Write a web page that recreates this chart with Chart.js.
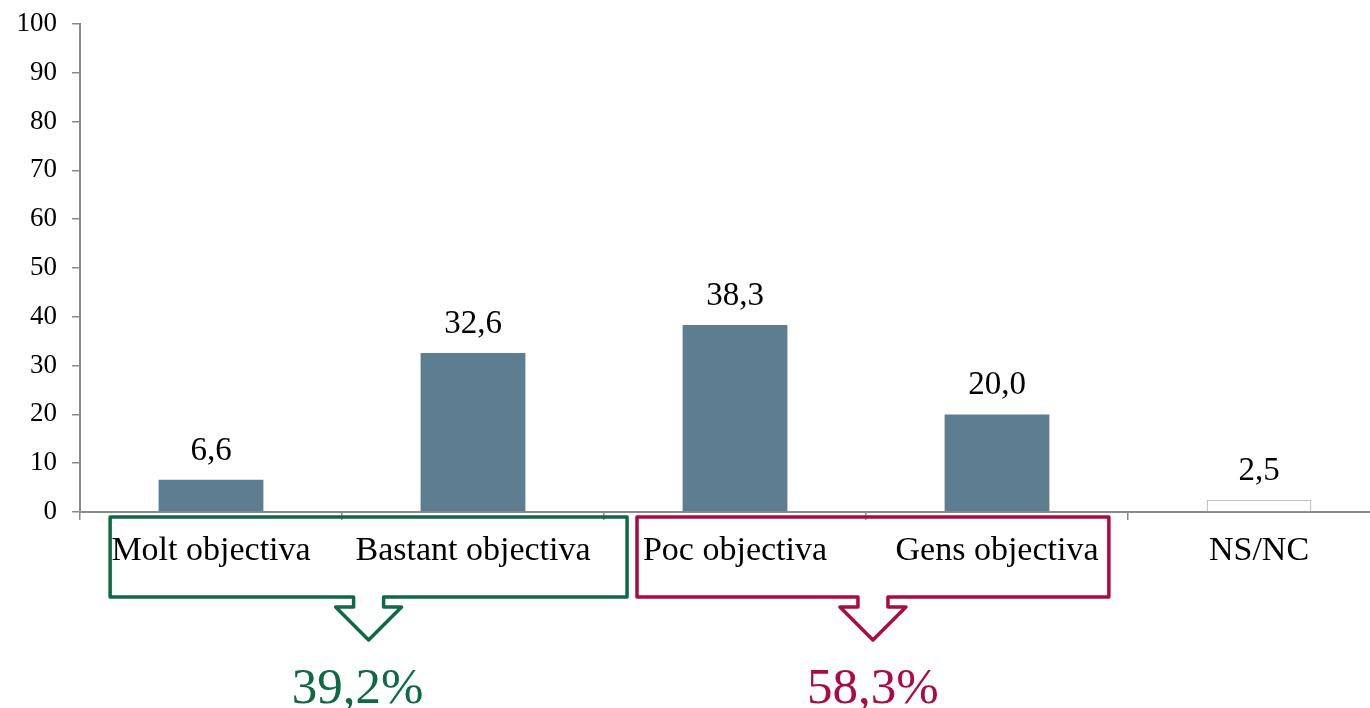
<!DOCTYPE html>
<html>
<head>
<meta charset="utf-8">
<script src="https://cdn.jsdelivr.net/npm/chart.js@4.4.0/dist/chart.umd.min.js"></script>
<style>
  html, body { margin: 0; padding: 0; background: #fff; overflow: hidden; }
  #wrap { width: 1370px; height: 708px; overflow: hidden; }
</style>
</head>
<body>
<div id="wrap"><canvas id="chart" width="1390" height="708"></canvas></div>
<script>
// chart data
const categories = ["Molt objectiva", "Bastant objectiva", "Poc objectiva", "Gens objectiva", "NS/NC"];
const values = [6.6, 32.6, 38.3, 20.0, 2.5];
const yTicks = [0, 10, 20, 30, 40, 50, 60, 70, 80, 90, 100];
const groupFrom = [0, 2];
const groupTo = [1, 3];
const groupTotals = [39.2, 58.3];

const FONT = "'Liberation Serif', 'DejaVu Serif', serif";
const barColors = ["#5d7e91", "#5d7e91", "#5d7e91", "#5d7e91", "#ffffff"];
const barBorders = ["#5d7e91", "#5d7e91", "#5d7e91", "#5d7e91", "#c4c4c4"];
const barBorderWidths = [0, 0, 0, 0, 1.5];
const groupColors = ["#0d6a45", "#ab0a43"];
// box extents in fractions of a category width (left of first, right of last)
const groupPad = [[0.385, 0.588], [0.374, 0.427]];

const fmt = v => v.toFixed(1).replace(".", ",");

// value labels above bars
const valueLabels = {
    id: "valueLabels",
    afterDatasetsDraw(chart) {
        const ctx = chart.ctx;
        const meta = chart.getDatasetMeta(0);
        ctx.save();
        ctx.font = "33px " + FONT;
        ctx.fillStyle = "#000";
        ctx.textAlign = "center";
        ctx.textBaseline = "alphabetic";
        meta.data.forEach((bar, i) => {
            ctx.fillText(fmt(values[i]), bar.x, bar.y - 20);
        });
        ctx.restore();
    }
};

// bracket boxes with arrows and totals
const groupBoxes = {
    id: "groupBoxes",
    afterDraw(chart) {
        const ctx = chart.ctx;
        const x = chart.scales.x;
        const axisY = chart.chartArea.bottom;
        const w = x.getPixelForValue(1) - x.getPixelForValue(0);
        ctx.save();
        groupFrom.forEach((from, g) => {
            const left = x.getPixelForValue(from) - groupPad[g][0] * w;
            const right = x.getPixelForValue(groupTo[g]) + groupPad[g][1] * w;
            const top = axisY + 5;
            const bottom = axisY + 85;
            const cx = (left + right) / 2;
            const stem = 15, wing = 33, stemLen = 10, tip = 33;
            ctx.strokeStyle = groupColors[g];
            ctx.lineWidth = 3.5;
            ctx.lineJoin = "round";
            ctx.beginPath();
            ctx.moveTo(left, top);
            ctx.lineTo(right, top);
            ctx.lineTo(right, bottom);
            ctx.lineTo(cx + stem, bottom);
            ctx.lineTo(cx + stem, bottom + stemLen);
            ctx.lineTo(cx + wing, bottom + stemLen);
            ctx.lineTo(cx, bottom + stemLen + tip);
            ctx.lineTo(cx - wing, bottom + stemLen);
            ctx.lineTo(cx - stem, bottom + stemLen);
            ctx.lineTo(cx - stem, bottom);
            ctx.lineTo(left, bottom);
            ctx.closePath();
            ctx.stroke();

            ctx.fillStyle = groupColors[g];
            ctx.font = "51px " + FONT;
            ctx.textAlign = "center";
            ctx.textBaseline = "alphabetic";
            ctx.fillText(fmt(groupTotals[g]) + "%", cx - (g === 0 ? 11 : 0), axisY + 191);
        });
        ctx.restore();
    }
};

new Chart(document.getElementById("chart").getContext("2d"), {
    type: "bar",
    data: {
        labels: categories,
        datasets: [{
            data: values,
            backgroundColor: barColors,
            borderColor: barBorders,
            borderWidth: barBorderWidths,
            categoryPercentage: 1,
            barPercentage: 0.4
        }]
    },
    options: {
        responsive: false,
        animation: false,
        layout: { padding: { top: 24, right: 0, left: 0, bottom: 0 } },
        plugins: { legend: { display: false }, tooltip: { enabled: false } },
        scales: {
            x: {
                grid: { drawOnChartArea: false, drawTicks: true, tickLength: 8, color: "#8a8a8a", lineWidth: 1.5 },
                border: { color: "#8a8a8a", width: 2 },
                ticks: { color: "#000", font: { family: FONT, size: 34 }, padding: 11, maxRotation: 0, autoSkip: false },
                afterFit(scale) { scale.height = 196; scale.paddingLeft = 0; scale.paddingRight = 0; }
            },
            y: {
                min: 0,
                max: 100,
                afterBuildTicks(scale) { scale.ticks = yTicks.map(v => ({ value: v })); },
                grid: { drawOnChartArea: false, drawTicks: true, tickLength: 8, color: "#8a8a8a", lineWidth: 1.5 },
                border: { color: "#8a8a8a", width: 2 },
                ticks: { color: "#000", font: { family: FONT, size: 27 }, padding: 15 },
                afterFit(scale) { scale.width = 80; scale.paddingTop = 0; scale.paddingBottom = 0; }
            }
        }
    },
    plugins: [valueLabels, groupBoxes]
});
</script>
</body>
</html>
